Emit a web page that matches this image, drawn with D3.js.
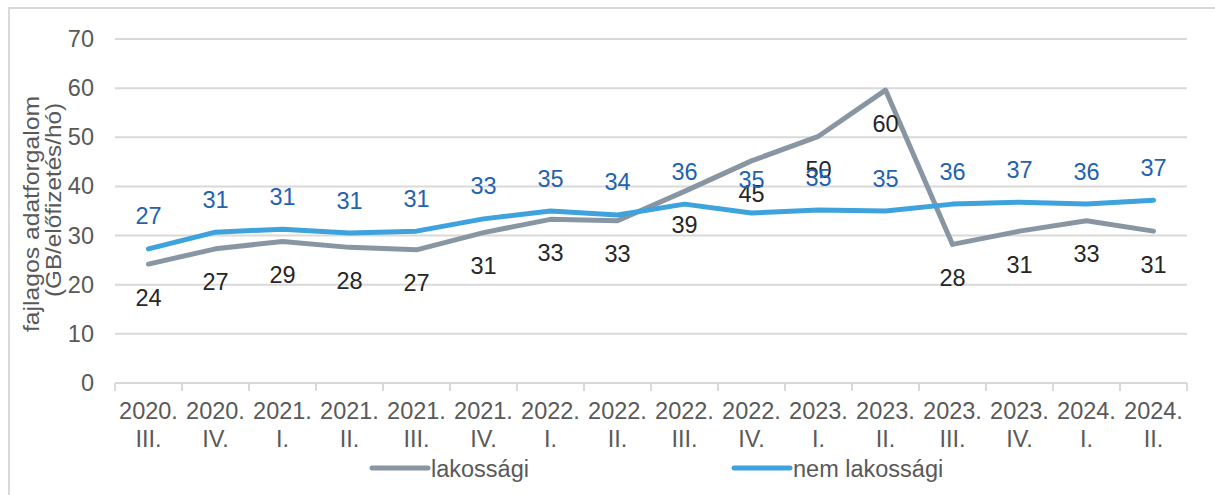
<!DOCTYPE html>
<html><head><meta charset="utf-8">
<script src="https://cdn.jsdelivr.net/npm/d3@7"></script>
<style>
body{margin:0;background:#fff;}
text{font-family:"Liberation Sans",Arial,sans-serif;}
</style></head>
<body><svg id="c" width="1215" height="495"></svg>
<script>
const catYears = ["2020.","2020.","2021.","2021.","2021.","2021.","2022.","2022.","2022.","2022.","2023.","2023.","2023.","2023.","2024.","2024."];
const catQuarters = ["III.","IV.","I.","II.","III.","IV.","I.","II.","III.","IV.","I.","II.","III.","IV.","I.","II."];
const lakossagi = [24.2,27.3,28.8,27.6,27.1,30.6,33.3,33.0,39.0,45.2,50.2,59.6,28.2,30.9,33.0,30.9];
const nemLakossagi = [27.3,30.7,31.3,30.5,30.9,33.4,35.0,34.2,36.4,34.6,35.2,35.0,36.4,36.8,36.4,37.2];
const yTicks = [0,10,20,30,40,50,60,70];
const seriesNames = ["lakossági","nem lakossági"];

const svg = d3.select("#c");
const m = {l:115, r:1187, t:39, b:383};
const idx = d3.range(catYears.length);
const x = d3.scaleBand().domain(idx).range([m.l, m.r]);
const y = d3.scaleLinear().domain([0,70]).range([m.b, m.t]);
const cx = i => x(i) + x.bandwidth()/2;
const FS = 23.5;

// frame
svg.append("path").attr("d","M9,495 V8 H1215").attr("fill","none").attr("stroke","#d9d9d9").attr("stroke-width",2);

// gridlines
svg.append("g").selectAll("line").data(yTicks.filter(d=>d>0)).join("line")
  .attr("x1",m.l).attr("x2",m.r).attr("y1",d=>y(d)).attr("y2",d=>y(d))
  .attr("stroke","#d9d9d9").attr("stroke-width",2);

// y axis labels
const yAxis = d3.axisLeft(y).tickValues(yTicks).tickSize(0).tickPadding(21);
const ga = svg.append("g").attr("transform",`translate(${m.l},0)`).call(yAxis);
ga.select(".domain").remove();
ga.selectAll("text").attr("font-size",FS).attr("fill","#595959").attr("font-family","Liberation Sans, Arial, sans-serif");

// x axis
const xAxis = d3.axisBottom(x).tickSize(0).tickFormat("");
const gx = svg.append("g").attr("transform",`translate(0,${m.b})`).call(xAxis);
gx.select(".domain").attr("stroke","#d9d9d9").attr("stroke-width",2).attr("d",`M${m.l},0H${m.r}`);
const bounds = idx.map(i=>x(i)).concat([m.r]);
svg.append("g").selectAll("line").data(bounds).join("line")
  .attr("x1",d=>d).attr("x2",d=>d).attr("y1",m.b).attr("y2",m.b+8)
  .attr("stroke","#d9d9d9").attr("stroke-width",2);
const xl = svg.append("g").selectAll("text").data(idx).join("text")
  .attr("x",cx).attr("text-anchor","middle").attr("font-size",FS).attr("fill","#595959");
xl.append("tspan").attr("x",cx).attr("y",m.b+35.5).text(i=>catYears[i]);
xl.append("tspan").attr("x",cx).attr("y",m.b+63.5).text(i=>catQuarters[i]);

// y title
const yt = svg.append("g").attr("font-size",21.5).attr("fill","#595959").attr("text-anchor","middle");
yt.append("text").attr("transform","translate(39,214) rotate(-90)")
  .attr("textLength",236).attr("lengthAdjust","spacingAndGlyphs").text("fajlagos adatforgalom");
yt.append("text").attr("transform","translate(61,200) rotate(-90)")
  .attr("textLength",194).attr("lengthAdjust","spacingAndGlyphs").text("(GB/előfizetés/hó)");

// lines
const line = d3.line().x((d,i)=>cx(i)).y(d=>y(d));
const colGrey = "#8896a4", colBlue = "#3ea3dd";
svg.append("path").datum(lakossagi).attr("d",line).attr("fill","none").attr("stroke",colGrey).attr("stroke-width",5).attr("stroke-linejoin","round").attr("stroke-linecap","round");
svg.append("path").datum(nemLakossagi).attr("d",line).attr("fill","none").attr("stroke",colBlue).attr("stroke-width",5).attr("stroke-linejoin","round").attr("stroke-linecap","round");

// data labels
svg.append("g").selectAll("text").data(lakossagi).join("text")
  .attr("x",(d,i)=>cx(i)).attr("y",d=>y(d)+41.5).attr("text-anchor","middle")
  .attr("font-size",FS).attr("fill","#262626").text(d=>Math.round(d));
svg.append("g").selectAll("text").data(nemLakossagi).join("text")
  .attr("x",(d,i)=>cx(i)).attr("y",d=>y(d)-24.5).attr("text-anchor","middle")
  .attr("font-size",FS).attr("fill","#1f62b0").text(d=>Math.round(d));

// legend
const leg = [{n:seriesNames[0],c:colGrey,x:372},{n:seriesNames[1],c:colBlue,x:734}];
const lg = svg.append("g").selectAll("g").data(leg).join("g").attr("transform",d=>`translate(${d.x},468)`);
lg.append("line").attr("x1",0).attr("x2",56).attr("stroke",d=>d.c).attr("stroke-width",5).attr("stroke-linecap","round");
lg.append("text").attr("x",59).attr("y",8.5).attr("font-size",FS).attr("fill","#595959").text(d=>d.n);
</script></body></html>
